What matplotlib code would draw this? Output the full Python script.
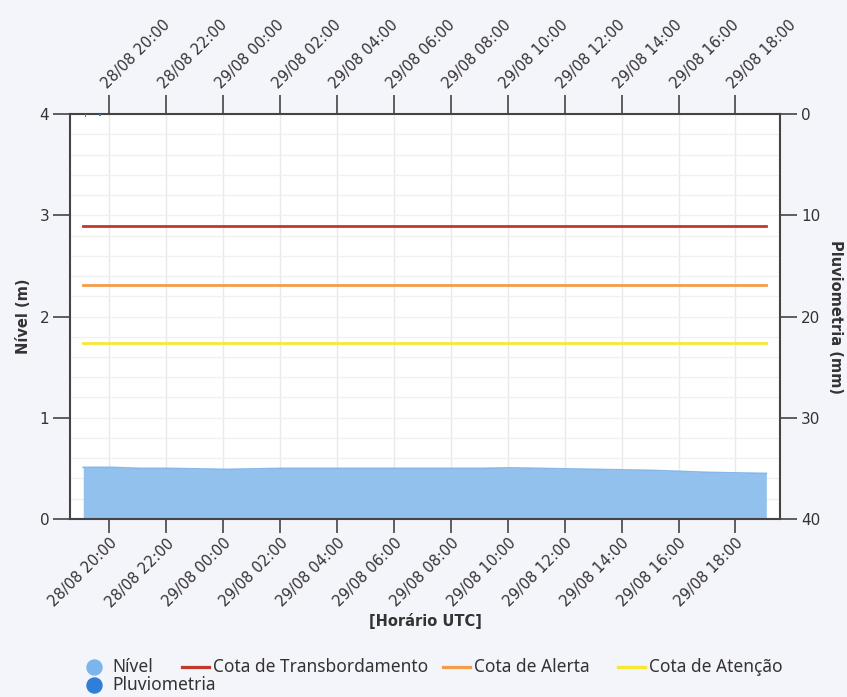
import numpy as np
import matplotlib
matplotlib.use("Agg")
import matplotlib.pyplot as plt
import matplotlib.dates as mdates
from matplotlib.lines import Line2D
from datetime import datetime, timedelta

# nivel (m), hourly from 28/08 19:05
t0 = datetime(2024, 8, 28, 19, 5)
nivel = [0.51, 0.51, 0.50, 0.50, 0.495, 0.49, 0.495, 0.50, 0.50, 0.50, 0.50, 0.50, 0.50,
         0.50, 0.50, 0.505, 0.50, 0.495, 0.49, 0.485, 0.48, 0.47, 0.46, 0.455, 0.45]
times = [t0 + timedelta(hours=i) for i in range(len(nivel))]

# pluviometria (mm)
pluv_times = [datetime(2024, 8, 28, 19, 10), datetime(2024, 8, 28, 19, 40)]
pluv = [0.3, 0.2]

# cotas (m)
cota_transb = 2.89
cota_alerta = 2.31
cota_atencao = 1.74

c_nivel = "#7cb5ec"
c_pluv = "#2f7ed8"
c_transb = "#c0392b"
c_alerta = "#f39c4b"
c_atencao = "#f7e834"

W, H = 847, 697
fig = plt.figure(figsize=(W / 100, H / 100), dpi=100)
fig.patch.set_facecolor("#f4f4fb")
ax = fig.add_axes([0.0826, 0.2554, 0.8384, 0.581])
ax.set_facecolor("white")

ax.fill_between(times, nivel, 0, color="#92c1ee", lw=0, zorder=2)
ax.plot(times, nivel, color="#86b8ea", lw=1.2, zorder=3)
for val, col in [(cota_transb, c_transb), (cota_alerta, c_alerta), (cota_atencao, c_atencao)]:
    ax.plot([times[0], times[-1]], [val, val], color=col, lw=2, zorder=4)

xmin = datetime(2024, 8, 28, 18, 37)
xmax = datetime(2024, 8, 29, 19, 34)
ax.set_xlim(xmin, xmax)
ax.set_ylim(0, 4)
ax.set_yticks([0, 1, 2, 3, 4])
ax.set_yticks(np.arange(0, 4.01, 0.2), minor=True)

ticks = [datetime(2024, 8, 28, 20) + timedelta(hours=2 * i) for i in range(12)]
ax.set_xticks(ticks)
fmt = mdates.DateFormatter("%d/%m %H:%M")
ax.xaxis.set_major_formatter(fmt)
ax.grid(True, which="major", axis="x", color="#e9e9e9", lw=1)
ax.grid(True, which="minor", axis="y", color="#f0f0f0", lw=1)
ax.grid(True, which="major", axis="y", color="#f0f0f0", lw=1)
ax.set_axisbelow(True)

for s in ["left", "bottom", "top"]:
    ax.spines[s].set_color("#444444")
    ax.spines[s].set_linewidth(1.5)
ax.spines["right"].set_visible(False)
ax.tick_params(axis="x", which="major", length=10, width=1.2, color="#444444",
               labelsize=10.6, labelcolor="#333333", direction="out", pad=2)
ax.tick_params(axis="y", which="major", length=12, width=1.2, color="#444444",
               labelsize=11, labelcolor="#333333", pad=3)
ax.tick_params(axis="y", which="minor", length=0)
for lab in ax.get_xticklabels():
    lab.set_rotation(45)
    lab.set_ha("right")
    lab.set_rotation_mode("anchor")

top = ax.secondary_xaxis("top")
top.set_xticks(ticks)
top.xaxis.set_major_formatter(fmt)
top.spines["top"].set_visible(False)
top.tick_params(axis="x", length=14, width=1.2, color="#444444", labelsize=10.6,
                labelcolor="#333333", pad=2)
for lab in top.get_xticklabels():
    lab.set_rotation(45)
    lab.set_ha("left")
    lab.set_rotation_mode("anchor")

ax2 = ax.twinx()
ax2.bar(pluv_times, pluv, width=3 / 1440, color=c_pluv, zorder=5)
ax2.set_ylim(40, 0)
ax2.set_yticks([0, 10, 20, 30, 40])
for s in ["left", "bottom", "top"]:
    ax2.spines[s].set_visible(False)
ax2.spines["right"].set_color("#444444")
ax2.spines["right"].set_linewidth(1.5)
ax2.tick_params(axis="y", length=12, width=1.2, color="#444444", labelsize=11,
                labelcolor="#333333", pad=3)

ax.set_ylabel("Nível (m)", fontsize=10.5, fontweight="bold", color="#333333", labelpad=6)
ax2.set_ylabel("Pluviometria (mm)", fontsize=10.5, fontweight="bold", color="#333333",
               rotation=-90, labelpad=16)
ax.set_xlabel("[Horário UTC]", fontsize=10.5, fontweight="bold", color="#333333", labelpad=2)

# legend, laid out in rows like the original (flowing items)
leg_labels = ["Nível", "Cota de Transbordamento", "Cota de Alerta", "Cota de Atenção", "Pluviometria"]
leg_kind = ["dot", "line", "line", "line", "dot"]
leg_colors = [c_nivel, c_transb, c_alerta, c_atencao, c_pluv]
leg_x = [86, 182, 443, 618, 86]
leg_y = [667, 667, 667, 667, 685]

def fx(px):
    return px / W

def fy(py):
    return 1 - py / H

for lab, kind, col, x, y in zip(leg_labels, leg_kind, leg_colors, leg_x, leg_y):
    if kind == "dot":
        fig.add_artist(Line2D([fx(x + 7.5)], [fy(y)], ls="", marker="o", ms=10.8,
                              color=col, transform=fig.transFigure))
        tx = x + 26
    else:
        fig.add_artist(Line2D([fx(x), fx(x + 27)], [fy(y), fy(y)], lw=2.3,
                              color=col, transform=fig.transFigure))
        tx = x + 31
    fig.text(fx(tx), fy(y), lab, fontsize=12.5, family="Noto Sans", color="#333333",
             ha="left", va="center")

fig.savefig("out.png", dpi=100, facecolor=fig.get_facecolor())
